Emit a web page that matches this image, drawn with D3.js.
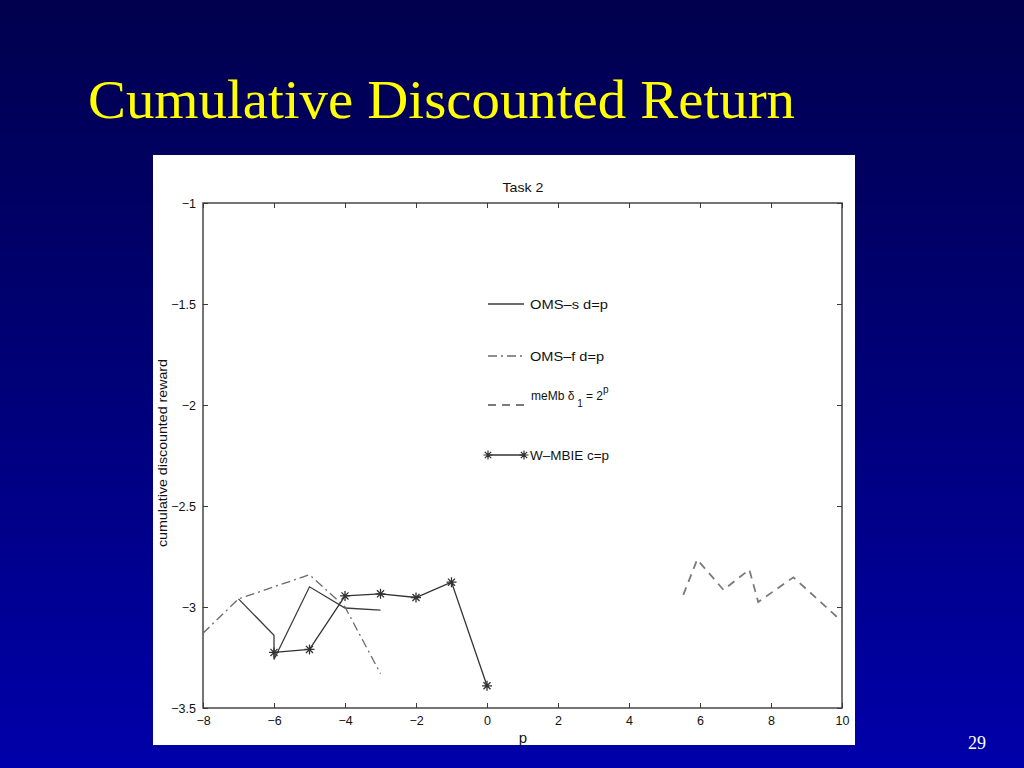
<!DOCTYPE html>
<html><head><meta charset="utf-8">
<script src="https://cdn.jsdelivr.net/npm/d3@7/dist/d3.min.js"></script>
<style>html,body{margin:0;padding:0;overflow:hidden;background:#000060;}</style>
</head><body>
<script>
// ---- data ----
const slideTitle = "Cumulative Discounted Return";
const plotTitle = "Task 2";
const xLabel = "p";
const yLabel = "cumulative discounted reward";
const pageNumber = "29";
const xTicks = [-8,-6,-4,-2,0,2,4,6,8,10];
const yTicks = [-1,-1.5,-2,-2.5,-3,-3.5];
const xDomain = [-8,10];
const yDomain = [-3.5,-1];

const omsS_x = [-7,-6,-6,-5,-4,-3];
const omsS_y = [-2.96,-3.14,-3.26,-2.90,-3.005,-3.015];
const omsF_x = [-8,-7,-6,-5,-4,-3];
const omsF_y = [-3.13,-2.96,-2.90,-2.84,-3.0,-3.33];
const memb_x = [5.53,5.92,6.66,7.39,7.64,8.63,9.99];
const memb_y = [-2.94,-2.765,-2.915,-2.815,-2.975,-2.853,-3.07];
const wmbie_x = [-6,-5,-4,-3,-2,-1,0];
const wmbie_y = [-3.225,-3.21,-2.945,-2.935,-2.953,-2.877,-3.39];

const W = 1024, H = 768;
const svg = d3.select("body").append("svg").attr("width",W).attr("height",H);
const defs = svg.append("defs");
const grad = defs.append("linearGradient").attr("id","bg").attr("x1",0).attr("y1",0).attr("x2",0).attr("y2",1);
grad.append("stop").attr("offset","0%").attr("stop-color","#00004e");
grad.append("stop").attr("offset","50%").attr("stop-color","#000078");
grad.append("stop").attr("offset","100%").attr("stop-color","#0000aa");
svg.append("rect").attr("width",W).attr("height",H).attr("fill","url(#bg)");

svg.append("text").attr("x",88).attr("y",118)
  .attr("font-family","'Liberation Serif','Times New Roman',serif")
  .attr("font-size",54).attr("fill","#ffff00")
  .attr("textLength",707).attr("lengthAdjust","spacingAndGlyphs")
  .text(slideTitle);

svg.append("text").attr("x",968).attr("y",749)
  .attr("font-family","'Liberation Serif',serif").attr("font-size",18).attr("fill","#ffffff")
  .text(pageNumber);

// white figure panel
svg.append("rect").attr("x",153).attr("y",155).attr("width",702).attr("height",590).attr("fill","#ffffff");

const x = d3.scaleLinear().domain(xDomain).range([203,842]);
const y = d3.scaleLinear().domain(yDomain).range([708,203]);
const font = "'Liberation Sans',Arial,sans-serif";
const axCol = "#3a3a3a";
const g = svg.append("g");

// box
g.append("rect").attr("x",x(-8)).attr("y",y(-1)).attr("width",x(10)-x(-8)).attr("height",y(-3.5)-y(-1))
  .attr("fill","none").attr("stroke",axCol).attr("stroke-width",1.4);

// axes with inward ticks
const xb = g.append("g").attr("transform",`translate(0,${y(-3.5)})`)
  .call(d3.axisBottom(x).tickValues(xTicks).tickSizeInner(-5).tickSizeOuter(0).tickPadding(8).tickFormat(d=>d<0?"\u2212"+(-d):d));
const xt = g.append("g").attr("transform",`translate(0,${y(-1)})`)
  .call(d3.axisTop(x).tickValues(xTicks).tickSizeInner(-5).tickSizeOuter(0).tickFormat(""));
const yl = g.append("g").attr("transform",`translate(${x(-8)},0)`)
  .call(d3.axisLeft(y).tickValues(yTicks).tickSizeInner(-5).tickSizeOuter(0).tickPadding(7).tickFormat(d=>"\u2212"+(-d)));
const yr = g.append("g").attr("transform",`translate(${x(10)},0)`)
  .call(d3.axisRight(y).tickValues(yTicks).tickSizeInner(-5).tickSizeOuter(0).tickFormat(""));
[xb,xt,yl,yr].forEach(a=>{
  a.select(".domain").remove();
  a.selectAll("line").attr("stroke",axCol).attr("stroke-width",1);
  a.selectAll("text").attr("font-family",font).attr("font-size",12.5).attr("fill","#111");
});

// labels
g.append("text").attr("x",523).attr("y",192).attr("text-anchor","middle")
  .attr("font-family",font).attr("font-size",13).attr("fill","#111")
  .attr("textLength",41).attr("lengthAdjust","spacingAndGlyphs").text(plotTitle);
g.append("text").attr("x",523).attr("y",743).attr("text-anchor","middle")
  .attr("font-family",font).attr("font-size",15).attr("fill","#111").text(xLabel);
g.append("text").attr("transform","translate(167,453) rotate(-90)").attr("text-anchor","middle")
  .attr("font-family",font).attr("font-size",12.5).attr("fill","#111")
  .attr("textLength",188).attr("lengthAdjust","spacingAndGlyphs").text(yLabel);

// series
const line = d3.line().x(d=>x(d[0])).y(d=>y(d[1]));
const zip = (a,b)=>a.map((v,i)=>[v,b[i]]);
defs.append("clipPath").attr("id","ax").append("rect")
  .attr("x",x(-8)).attr("y",y(-1)).attr("width",x(10)-x(-8)).attr("height",y(-3.5)-y(-1));
const pg = g.append("g").attr("clip-path","url(#ax)");

const series = [
  {d:zip(omsS_x,omsS_y), color:"#3c3c3c", dash:null, w:1.3},
  {d:zip(omsF_x,omsF_y), color:"#6a6a6a", dash:"9,4,2,4", w:1.3},
  {d:zip(memb_x,memb_y), color:"#7a7a7a", dash:"8,6", w:1.8},
  {d:zip(wmbie_x,wmbie_y), color:"#333333", dash:null, w:1.3, star:true}
];
const starPath = (cx,cy,r)=>{
  let p="";
  for(let k=0;k<4;k++){const a=k*Math.PI/4;const dx=r*Math.cos(a),dy=r*Math.sin(a);
    p+=`M${cx-dx},${cy-dy}L${cx+dx},${cy+dy}`;}
  return p;
};
series.forEach(s=>{
  pg.append("path").attr("d",line(s.d)).attr("fill","none").attr("stroke",s.color)
    .attr("stroke-width",s.w).attr("stroke-dasharray",s.dash).attr("stroke-linejoin","miter");
  if(s.star){
    pg.selectAll(null).data(s.d).enter().append("path")
      .attr("d",d=>starPath(x(d[0]),y(d[1]),5)).attr("stroke",s.color).attr("stroke-width",1.3).attr("fill","none");
  }
});

// legend
const legY = [304,356,405,455];
const legText = ["OMS\u2013s d=p","OMS\u2013f d=p",null,"W\u2013MBIE c=p"];
const legLen = [78,74,null,79];
const lg = g.append("g");
series.forEach((s,i)=>{
  const yy = legY[i];
  lg.append("line").attr("x1",488).attr("x2",524).attr("y1",yy).attr("y2",yy)
    .attr("stroke",s.color).attr("stroke-width",s.w).attr("stroke-dasharray",s.dash);
  if(s.star){
    lg.append("path").attr("d",starPath(488,yy,4.5)+starPath(524,yy,4.5)).attr("stroke",s.color).attr("stroke-width",1.2);
  }
  if(legText[i]){
    lg.append("text").attr("x",530).attr("y",yy+4.5).attr("font-family",font).attr("font-size",12.5)
      .attr("fill","#111").attr("textLength",legLen[i]).attr("lengthAdjust","spacingAndGlyphs").text(legText[i]);
  }
});
// meMb legend with sub/superscript
const mt = lg.append("text").attr("x",531).attr("y",400).attr("font-family",font).attr("font-size",12).attr("fill","#111");
mt.append("tspan").text("meMb \u03b4");
mt.append("tspan").attr("dx",3).attr("dy",7).attr("font-size",10).text("1");
mt.append("tspan").attr("dx",3).attr("dy",-7).text("= 2");
mt.append("tspan").attr("dy",-7).attr("font-size",10).text("p");
</script>
</body></html>
